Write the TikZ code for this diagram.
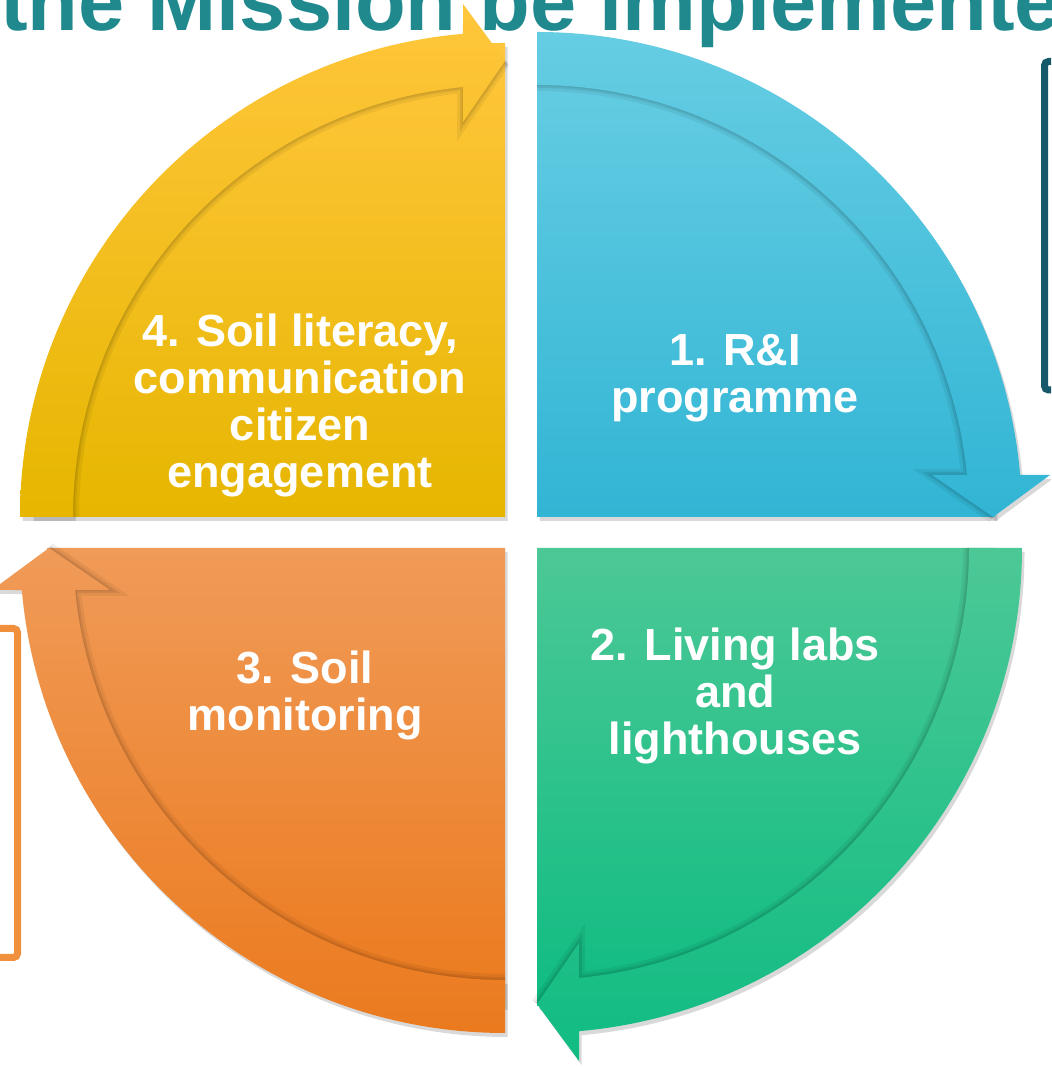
\documentclass[tikz,border=0pt]{standalone}
\usepackage{fontspec}
\setmainfont{Liberation Sans}
\usetikzlibrary{calc}
\definecolor{bluetop}{HTML}{66CDE3}
\definecolor{bluemid}{HTML}{43C6E3}
\definecolor{bluebot}{HTML}{31B5D4}
\definecolor{greentop}{HTML}{4CC896}
\definecolor{greenmid}{HTML}{1FC48C}
\definecolor{greenbot}{HTML}{10BC82}
\definecolor{orangetop}{HTML}{F09B58}
\definecolor{orangemid}{HTML}{F48E30}
\definecolor{orangebot}{HTML}{EB7A1E}
\definecolor{yellowtop}{HTML}{FFC63C}
\definecolor{yellowmid}{HTML}{FDC300}
\definecolor{yellowbot}{HTML}{E6B600}
\definecolor{titleteal}{HTML}{1F898E}
\definecolor{boxteal}{HTML}{15596A}
\definecolor{boxorange}{HTML}{F0903C}
% #1 cx, #2 cy, #3 head angle, #4 top, #5 middle, #6 bottom colour, #7 pie radius
\newcommand{\drawquad}[7]{%
\begin{scope}[shift={(#1,#2)}]
  \begin{scope}[shift={(2.5,-4)}]
    \fill[black,opacity=0.15] (0,0) -- (#3+90:#7) arc[start angle=#3+90, end angle=#3, radius=#7] -- cycle;
    \fill[black,opacity=0.15] (#3+90:485) arc[start angle=#3+90, end angle=#3+4.97, radius=485]
      -- (#3+4.68:514.72) -- (#3:456) -- (#3+6.07:397.23) -- (#3+5.58:432)
      arc[start angle=#3+5.58, end angle=#3+90, radius=432] -- cycle;
  \end{scope}
  \shade[top color=#4, middle color=#5, bottom color=#6]
    (0,0) -- (#3+90:#7) arc[start angle=#3+90, end angle=#3, radius=#7] -- cycle;
  \draw[black,opacity=0.06,line width=12] (#3:456) -- (#3+6.07:397.23) -- (#3+5.58:432)
      arc[start angle=#3+5.58, end angle=#3+90, radius=432];
  \draw[black,opacity=0.08,line width=6] (#3:456) -- (#3+6.07:397.23) -- (#3+5.58:432)
      arc[start angle=#3+5.58, end angle=#3+90, radius=432];
  \draw[black,opacity=0.06,line width=2.5] (#3:456) -- (#3+6.07:397.23) -- (#3+5.58:432)
      arc[start angle=#3+5.58, end angle=#3+90, radius=432];
  \shade[top color=#4, middle color=#5, bottom color=#6]
    (#3+90:485) arc[start angle=#3+90, end angle=#3+4.97, radius=485]
      -- (#3+4.68:514.72) -- (#3:456) -- (#3+6.07:397.23) -- (#3+5.58:432)
      arc[start angle=#3+5.58, end angle=#3+90, radius=432] -- cycle;
\end{scope}}
\tikzset{
  quadlabel/.style={text=white, align=center, font=\fontsize{45}{47}\selectfont\bfseries, inner sep=0pt},
  sidebox/.style={line width=7pt, rounded corners=4pt}
}
\begin{document}
\begin{tikzpicture}[x=1pt,y=1pt]
\useasboundingbox (0,0) rectangle (1051,1067);
\clip (0,0) rectangle (1051,1067);
\fill[white] (0,0) rectangle (1051,1067);
% title (cut off at the top)
\node[anchor=base west, inner sep=0pt, text=titleteal, font=\fontsize{83}{88}\selectfont\bfseries] (title) at (0,1036) {the Mission be implemented};
% side boxes, partly visible
\draw[sidebox, draw=boxteal] (1044.5,1005.5) rectangle (1120,677);
\draw[sidebox, draw=boxorange] (-60,438.5) rectangle (17.5,109.5);
% quadrants
\drawquad{537}{550}{0}{bluetop}{bluemid}{bluebot}{458}
\drawquad{537}{519}{-90}{greentop}{greenmid}{greenbot}{458}
\drawquad{505}{519}{-180}{orangetop}{orangemid}{orangebot}{458}
\drawquad{505}{550}{90}{yellowtop}{yellowmid}{yellowbot}{474}
% labels
\node[quadlabel] (q1) at (735,689) {1. R\&I\\programme};
\node[quadlabel] (q2) at (735,371) {2. Living labs\\and\\lighthouses};
\node[quadlabel] (q3) at (305,372) {3. Soil\\monitoring};
\node[quadlabel] (q4) at (300,662) {4. Soil literacy,\\communication\\citizen\\engagement};
\end{tikzpicture}
\end{document}
